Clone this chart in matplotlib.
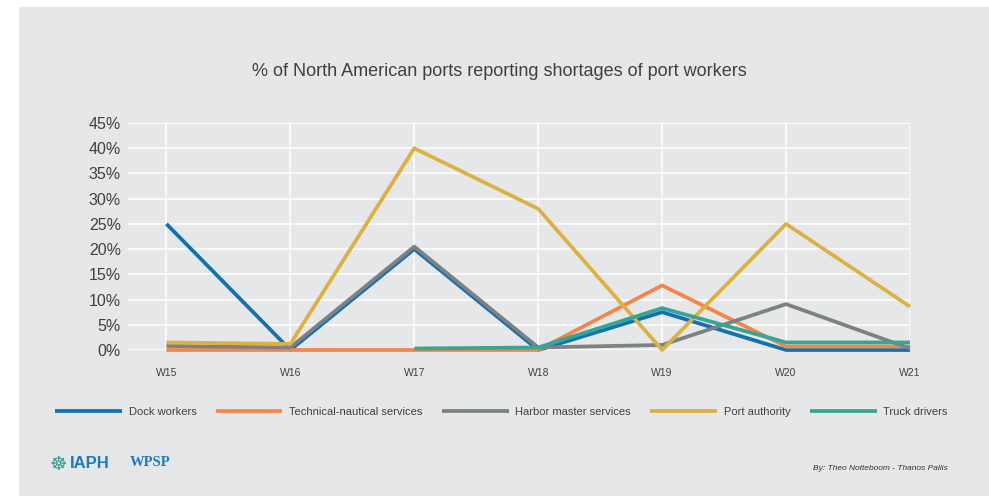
import numpy as np
import matplotlib.pyplot as plt
from matplotlib.patches import Rectangle

weeks = ["W15", "W16", "W17", "W18", "W19", "W20", "W21"]
dock_workers = [25, 0, 20, 0, 7.5, 0, 0]
technical_nautical = [0, 0, 0, 0, 12.8, 0.7, 0.7]
harbor_master = [0.8, 0.5, 20.5, 0.5, 1.0, 9.1, 0.3]
port_authority = [1.5, 1.2, 40, 28, 0, 25, 8.6]
truck_drivers = [None, None, 0.3, 0.5, 8.3, 1.5, 1.5]

series = [
    ("Dock workers", dock_workers, "#1071B4"),
    ("Technical-nautical services", technical_nautical, "#F4844B"),
    ("Harbor master services", harbor_master, "#7E8182"),
    ("Port authority", port_authority, "#DDB044"),
    ("Truck drivers", truck_drivers, "#37A594"),
]

plt.rcParams["font.family"] = ["Liberation Sans", "DejaVu Sans"]

bg = "#E6E7E8"
txt = "#404040"

fig = plt.figure(figsize=(9.89, 4.96), dpi=100)
fig.patch.set_facecolor("white")
fig.patches.append(Rectangle((19 / 989, 0), 1, 1 - 7 / 496, transform=fig.transFigure,
                             facecolor=bg, edgecolor="none", zorder=-10))

ax = fig.add_axes([128 / 989, 1 - 350 / 496, (910 - 128) / 989, (350 - 123) / 496])
ax.set_facecolor(bg)
x = np.arange(len(weeks))

for name, vals, col in series:
    v = np.array([np.nan if a is None else a for a in vals], dtype=float)
    ax.plot(x, v, color=col, lw=2.7, label=name, clip_on=False, solid_capstyle="butt", zorder=3)

ax.set_xlim(-0.31, 6)
ax.set_ylim(0, 45)
ax.set_yticks(np.arange(0, 46, 5))
ax.set_yticklabels([f"{t}%" for t in range(0, 46, 5)], fontsize=11.5, color=txt)
ax.set_xticks(x)
ax.set_xticklabels(weeks, fontsize=7.5, color=txt)
ax.tick_params(length=0)
ax.tick_params(axis="y", pad=5)
ax.tick_params(axis="x", pad=13)
ax.grid(axis="y", color="white", lw=1.1, zorder=1)
for xi in x:
    ax.plot([xi, xi], [0, 45], color="white", lw=1.1, zorder=1)
for s in ax.spines.values():
    s.set_visible(False)

fig.text(0.505, 1 - 72 / 496, "% of North American ports reporting shortages of port workers",
         ha="center", va="center", fontsize=13, color=txt)

fig.legend(loc="center", bbox_to_anchor=(0.507, 1 - 412 / 496), ncol=5, frameon=False,
           fontsize=8, handlelength=6.0, columnspacing=1.75, handletextpad=0.6,
           labelcolor=txt)

fig.text(50 / 989, 1 - 464 / 496, "\u2638", fontsize=14, color="#2C9C8F", va="center", ha="left",
         family="DejaVu Sans")
fig.text(70 / 989, 1 - 463 / 496, "IAPH", fontsize=12, color="#1A7BBF", fontweight="bold",
         va="center", ha="left")
fig.text(130 / 989, 1 - 463 / 496, "WPSP", fontsize=10.5, color="#1A7BBF", fontweight="bold",
         family="Liberation Serif", va="center", ha="left")

fig.text(948 / 989, 1 - 469 / 496, "By: Theo Notteboom - Thanos Pallis", fontsize=6,
         style="italic", color="#333333", ha="right", va="center")

fig.savefig("out.png", dpi=100, facecolor=fig.get_facecolor())
